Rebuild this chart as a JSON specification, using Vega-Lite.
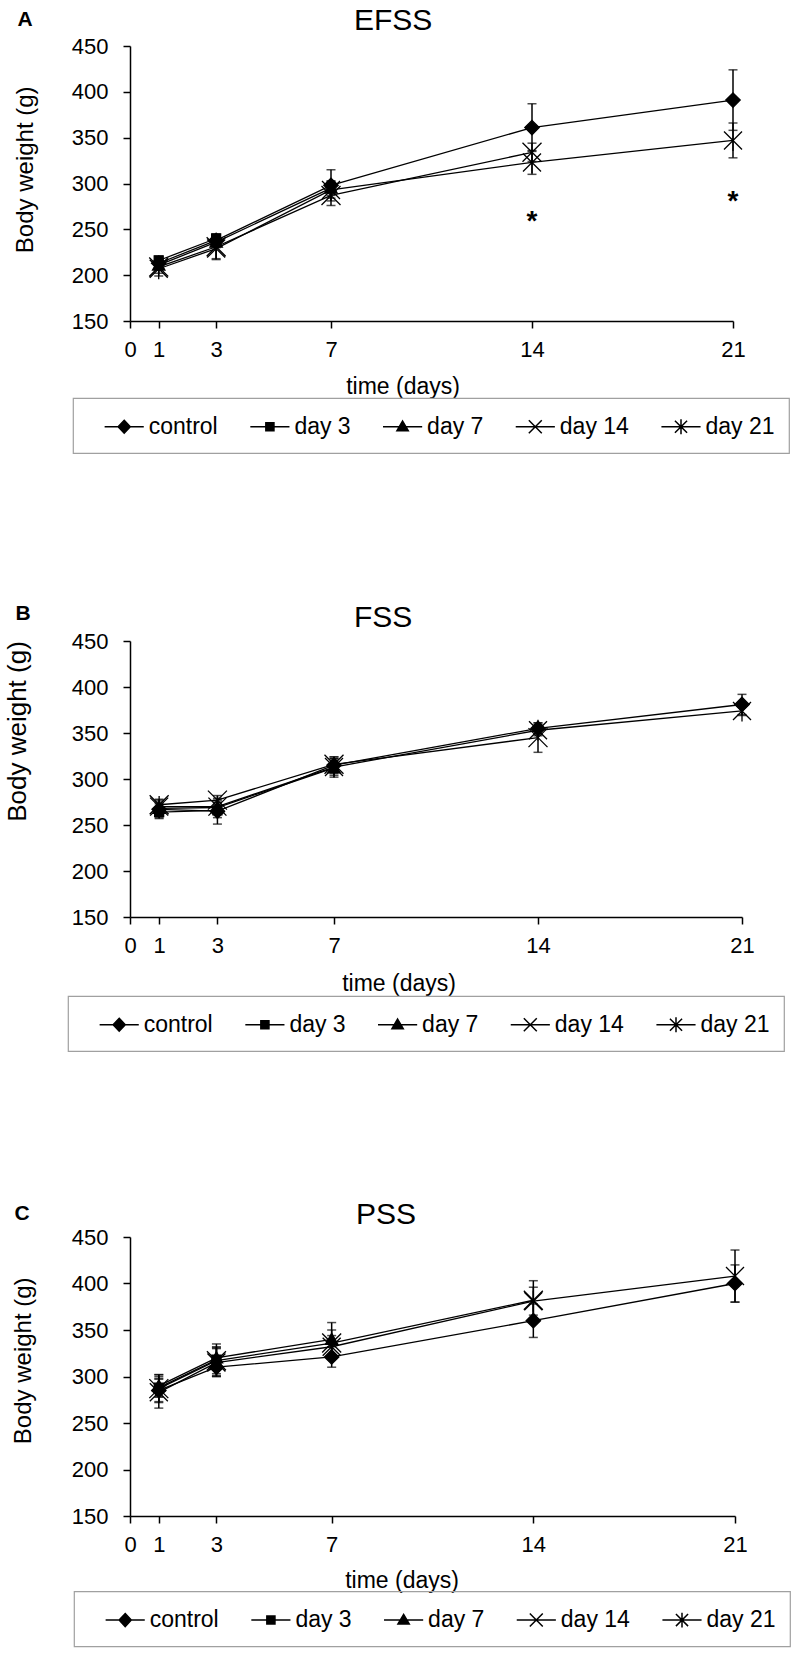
{
  "$schema": "https://vega.github.io/schema/vega-lite/v6.json",
  "background": "white",
  "padding": {"left": 4, "top": 5, "right": 5, "bottom": 5},
  "bounds": "flush",
  "spacing": 320,
  "resolve": {"scale": {"shape": "independent", "stroke": "independent"}, "legend": {"shape": "independent", "stroke": "independent"}},
  "datasets": {
    "efss": [
      {"series": "control", "day": 1, "mean": 213, "lo": 208, "hi": 218},
      {"series": "control", "day": 3, "mean": 238, "lo": 232, "hi": 244},
      {"series": "control", "day": 7, "mean": 298, "lo": 281, "hi": 315},
      {"series": "control", "day": 14, "mean": 361, "lo": 335, "hi": 387},
      {"series": "control", "day": 21, "mean": 391, "lo": 358, "hi": 424},
      {"series": "day 3", "day": 1, "mean": 216, "lo": 211, "hi": 221},
      {"series": "day 3", "day": 3, "mean": 240, "lo": 235, "hi": 245},
      {"series": "day 7", "day": 1, "mean": 211, "lo": 206, "hi": 216},
      {"series": "day 7", "day": 3, "mean": 236, "lo": 230, "hi": 242},
      {"series": "day 7", "day": 7, "mean": 295, "lo": 287, "hi": 303},
      {"series": "day 14", "day": 1, "mean": 209, "lo": 202, "hi": 216},
      {"series": "day 14", "day": 3, "mean": 231, "lo": 218, "hi": 244},
      {"series": "day 14", "day": 7, "mean": 287, "lo": 276, "hi": 298},
      {"series": "day 14", "day": 14, "mean": 334, "lo": 324, "hi": 344},
      {"series": "day 21", "day": 1, "mean": 207, "lo": 199, "hi": 215},
      {"series": "day 21", "day": 3, "mean": 229, "lo": 217, "hi": 241},
      {"series": "day 21", "day": 7, "mean": 293, "lo": 284, "hi": 302},
      {"series": "day 21", "day": 14, "mean": 323, "lo": 310, "hi": 336},
      {"series": "day 21", "day": 21, "mean": 347, "lo": 328, "hi": 366}
    ],
    "fss": [
      {"series": "control", "day": 1, "mean": 267, "lo": 257, "hi": 277},
      {"series": "control", "day": 3, "mean": 265, "lo": 251, "hi": 279},
      {"series": "control", "day": 7, "mean": 315, "lo": 306, "hi": 324},
      {"series": "control", "day": 14, "mean": 355, "lo": 349, "hi": 361},
      {"series": "control", "day": 21, "mean": 381, "lo": 370, "hi": 392},
      {"series": "day 3", "day": 1, "mean": 264, "lo": 258, "hi": 270},
      {"series": "day 3", "day": 3, "mean": 266, "lo": 258, "hi": 274},
      {"series": "day 7", "day": 1, "mean": 268, "lo": 263, "hi": 273},
      {"series": "day 7", "day": 3, "mean": 269, "lo": 263, "hi": 275},
      {"series": "day 7", "day": 7, "mean": 312, "lo": 302, "hi": 322},
      {"series": "day 14", "day": 1, "mean": 272, "lo": 266, "hi": 278},
      {"series": "day 14", "day": 3, "mean": 277, "lo": 272, "hi": 282},
      {"series": "day 14", "day": 7, "mean": 316, "lo": 308, "hi": 324},
      {"series": "day 14", "day": 14, "mean": 345, "lo": 329, "hi": 361},
      {"series": "day 21", "day": 1, "mean": 270, "lo": 265, "hi": 275},
      {"series": "day 21", "day": 3, "mean": 270, "lo": 263, "hi": 277},
      {"series": "day 21", "day": 7, "mean": 313, "lo": 304, "hi": 322},
      {"series": "day 21", "day": 14, "mean": 353, "lo": 347, "hi": 359},
      {"series": "day 21", "day": 21, "mean": 374, "lo": 369, "hi": 379}
    ],
    "pss": [
      {"series": "control", "day": 1, "mean": 285, "lo": 273, "hi": 297},
      {"series": "control", "day": 3, "mean": 310, "lo": 300, "hi": 320},
      {"series": "control", "day": 7, "mean": 321, "lo": 310, "hi": 332},
      {"series": "control", "day": 14, "mean": 360, "lo": 342, "hi": 378},
      {"series": "control", "day": 21, "mean": 400, "lo": 380, "hi": 420},
      {"series": "day 3", "day": 1, "mean": 288, "lo": 278, "hi": 298},
      {"series": "day 3", "day": 3, "mean": 318, "lo": 301, "hi": 335},
      {"series": "day 7", "day": 1, "mean": 290, "lo": 278, "hi": 302},
      {"series": "day 7", "day": 3, "mean": 320, "lo": 308, "hi": 332},
      {"series": "day 7", "day": 7, "mean": 340, "lo": 322, "hi": 358},
      {"series": "day 14", "day": 1, "mean": 287, "lo": 272, "hi": 302},
      {"series": "day 14", "day": 3, "mean": 317, "lo": 303, "hi": 331},
      {"series": "day 14", "day": 7, "mean": 336, "lo": 322, "hi": 350},
      {"series": "day 14", "day": 14, "mean": 382, "lo": 361, "hi": 403},
      {"series": "day 21", "day": 1, "mean": 283, "lo": 266, "hi": 300},
      {"series": "day 21", "day": 3, "mean": 315, "lo": 300, "hi": 330},
      {"series": "day 21", "day": 7, "mean": 332, "lo": 320, "hi": 344},
      {"series": "day 21", "day": 14, "mean": 381, "lo": 366, "hi": 396},
      {"series": "day 21", "day": 21, "mean": 408, "lo": 380, "hi": 436}
    ],
    "stars": [
      {"day": 14, "value": 266, "label": "*"},
      {"day": 21, "value": 288, "label": "*"}
    ]
  },
  "vconcat": [
    {
      "width": 603, "height": 275,
      "title": {"text": "A", "anchor": "start", "frame": "bounds", "fontSize": 21, "fontWeight": "bold", "baseline": "alphabetic", "offset": -41.5, "dx": 4},
      "data": {"name": "efss"},
      "resolve": {"axis": {"x": "independent"}},
      "layer": [
        {"mark": {"type": "line", "color": "black", "strokeWidth": 1.3},
         "encoding": {
           "x": {"field": "day", "type": "quantitative", "scale": {"domain": [0, 21], "nice": false, "zero": false},
                 "axis": {"values": [0, 1, 3, 7, 14, 21], "title": "time (days)", "titleX": 272.5, "titleY": 72, "titleAlign": "center", "titleBaseline": "alphabetic", "titleFontSize": 23, "labelFontSize": 22, "labelBaseline": "alphabetic", "labelPadding": 28, "tickSize": 7, "labelFlush": false}},
           "y": {"field": "mean", "type": "quantitative", "scale": {"domain": [150, 450], "nice": false, "zero": false},
                 "axis": {"values": [150, 200, 250, 300, 350, 400, 450], "title": "Body weight (g)", "titleX": -97.5, "titleY": 123.3, "titleAngle": -90, "titleAlign": "center", "titleBaseline": "alphabetic", "titleFontSize": 24, "labelFontSize": 22, "labelPadding": 15, "tickSize": 7}},
           "detail": {"field": "series"}
         }},
        {"mark": {"type": "rule", "color": "black", "strokeWidth": 1.5},
         "encoding": {"x": {"field": "day", "type": "quantitative", "axis": null}, "y": {"field": "lo", "type": "quantitative"}, "y2": {"field": "hi"}}},
        {"mark": {"type": "tick", "orient": "horizontal", "color": "black", "size": 9, "thickness": 1.5},
         "encoding": {"x": {"field": "day", "type": "quantitative", "axis": null}, "y": {"field": "lo", "type": "quantitative"}}},
        {"mark": {"type": "tick", "orient": "horizontal", "color": "black", "size": 9, "thickness": 1.5},
         "encoding": {"x": {"field": "day", "type": "quantitative", "axis": null}, "y": {"field": "hi", "type": "quantitative"}}},
        {"transform": [{"filter": "datum.series === 'control'"}],
         "mark": {"type": "point", "shape": "M0,-0.72L0.72,0L0,0.72L-0.72,0Z", "filled": true, "fill": "black", "stroke": "black", "strokeWidth": 1.3, "size": 400, "opacity": 1},
         "encoding": {
           "x": {"field": "day", "type": "quantitative", "axis": {"orient": "top", "domain": false, "ticks": false, "labels": false, "grid": false, "title": "EFSS", "titleX": 223.5, "titleY": -17, "titleAlign": "left", "titleBaseline": "alphabetic", "titleFontSize": 30, "titleFontWeight": "normal"}},
           "y": {"field": "mean", "type": "quantitative"}}},
        {"transform": [{"filter": "datum.series === 'day 3'"}],
         "mark": {"type": "point", "shape": "M-0.45,-0.45H0.45V0.45H-0.45Z", "filled": true, "fill": "black", "stroke": "black", "strokeWidth": 1.3, "size": 400, "opacity": 1},
         "encoding": {"x": {"field": "day", "type": "quantitative", "axis": null}, "y": {"field": "mean", "type": "quantitative"}}},
        {"transform": [{"filter": "datum.series === 'day 7'"}],
         "mark": {"type": "point", "shape": "M0,-0.6L0.62,0.5H-0.62Z", "filled": true, "fill": "black", "stroke": "black", "strokeWidth": 1.3, "size": 400, "opacity": 1},
         "encoding": {"x": {"field": "day", "type": "quantitative", "axis": null}, "y": {"field": "mean", "type": "quantitative"}}},
        {"transform": [{"filter": "datum.series === 'day 14'"}],
         "mark": {"type": "point", "shape": "M-0.95,-0.95L0.95,0.95M-0.95,0.95L0.95,-0.95", "filled": true, "fill": "black", "stroke": "black", "strokeWidth": 1.3, "size": 400, "opacity": 1},
         "encoding": {"x": {"field": "day", "type": "quantitative", "axis": null}, "y": {"field": "mean", "type": "quantitative"}}},
        {"transform": [{"filter": "datum.series === 'day 21'"}],
         "mark": {"type": "point", "shape": "M-0.9,-0.9L0.9,0.9M-0.9,0.9L0.9,-0.9M0,-1.05L0,1.05", "filled": true, "fill": "black", "stroke": "black", "strokeWidth": 1.3, "size": 400, "opacity": 1},
         "encoding": {"x": {"field": "day", "type": "quantitative", "axis": null}, "y": {"field": "mean", "type": "quantitative"}}},
        {"transform": [{"filter": "datum.day < 0"}],
         "mark": {"type": "point", "filled": true, "color": "black"},
         "encoding": {
           "x": {"field": "day", "type": "quantitative", "axis": null},
           "y": {"field": "mean", "type": "quantitative"},
           "shape": {"field": "series", "type": "nominal",
             "scale": {"domain": ["control", "day 3", "day 7", "day 14", "day 21"],
                       "range": ["M-1.45,0H1.45M0,-0.48L0.45,0L0,0.48L-0.45,0Z", "M-1.45,0H1.45M-0.3,-0.3H0.3V0.3H-0.3Z", "M-1.45,0H1.45M0,-0.42L0.42,0.3H-0.42Z", "M-1.45,0H1.45M-0.48,-0.48L0.48,0.48M-0.48,0.48L0.48,-0.48", "M-1.45,0H1.45M-0.45,-0.45L0.45,0.45M-0.45,0.45L0.45,-0.45M0,-0.55L0,0.55"]},
             "legend": {"orient": "none", "legendX": -57, "legendY": 352, "direction": "horizontal", "columns": 5, "columnPadding": 27.7,
               "title": " ", "titleOrient": "left", "titleFontSize": 8, "titlePadding": 22.7,
               "labelFontSize": 23, "labelColor": "black", "labelOffset": 10,
               "symbolSize": 729, "symbolStrokeWidth": 1.5, "symbolFillColor": "black", "symbolStrokeColor": "black", "symbolOpacity": 1,
               "padding": 14, "strokeColor": "#a0a0a0"}},
           "stroke": {"field": "series", "type": "nominal",
             "scale": {"domain": ["control", "day 3", "day 7", "day 14", "day 21"], "range": ["black", "black", "black", "black", "black"]},
             "legend": {"orient": "none", "legendX": -57, "legendY": 352, "direction": "horizontal", "columns": 5, "columnPadding": 27.7,
               "title": " ", "titleOrient": "left", "titleFontSize": 8, "titlePadding": 22.7,
               "labelFontSize": 23, "labelColor": "black", "labelOffset": 10,
               "symbolSize": 729, "symbolStrokeWidth": 1.5, "symbolFillColor": "black", "symbolStrokeColor": "black", "symbolOpacity": 1,
               "padding": 14, "strokeColor": "#a0a0a0"}}
         }},
        {"data": {"name": "stars"},
         "mark": {"type": "text", "fontSize": 28, "fontWeight": "bold", "dy": 7, "color": "black"},
         "encoding": {"x": {"field": "day", "type": "quantitative", "axis": null}, "y": {"field": "value", "type": "quantitative"}, "text": {"field": "label"}}}
      ]
    },
    {
      "width": 612, "height": 276,
      "title": {"text": "B", "anchor": "start", "frame": "bounds", "fontSize": 21, "fontWeight": "bold", "baseline": "alphabetic", "offset": -38.5, "dx": 11},
      "data": {"name": "fss"},
      "resolve": {"axis": {"x": "independent"}},
      "layer": [
        {"mark": {"type": "line", "color": "black", "strokeWidth": 1.3},
         "encoding": {
           "x": {"field": "day", "type": "quantitative", "scale": {"domain": [0, 21], "nice": false, "zero": false},
                 "axis": {"values": [0, 1, 3, 7, 14, 21], "title": "time (days)", "titleX": 268.5, "titleY": 73, "titleAlign": "center", "titleBaseline": "alphabetic", "titleFontSize": 23, "labelFontSize": 22, "labelBaseline": "alphabetic", "labelPadding": 28, "tickSize": 7, "labelFlush": false}},
           "y": {"field": "mean", "type": "quantitative", "scale": {"domain": [150, 450], "nice": false, "zero": false},
                 "axis": {"values": [150, 200, 250, 300, 350, 400, 450], "title": "Body weight (g)", "titleX": -104.5, "titleY": 90, "titleAngle": -90, "titleAlign": "center", "titleBaseline": "alphabetic", "titleFontSize": 26, "labelFontSize": 22, "labelPadding": 15, "tickSize": 7}},
           "detail": {"field": "series"}
         }},
        {"mark": {"type": "rule", "color": "black", "strokeWidth": 1.5},
         "encoding": {"x": {"field": "day", "type": "quantitative", "axis": null}, "y": {"field": "lo", "type": "quantitative"}, "y2": {"field": "hi"}}},
        {"mark": {"type": "tick", "orient": "horizontal", "color": "black", "size": 9, "thickness": 1.5},
         "encoding": {"x": {"field": "day", "type": "quantitative", "axis": null}, "y": {"field": "lo", "type": "quantitative"}}},
        {"mark": {"type": "tick", "orient": "horizontal", "color": "black", "size": 9, "thickness": 1.5},
         "encoding": {"x": {"field": "day", "type": "quantitative", "axis": null}, "y": {"field": "hi", "type": "quantitative"}}},
        {"transform": [{"filter": "datum.series === 'control'"}],
         "mark": {"type": "point", "shape": "M0,-0.72L0.72,0L0,0.72L-0.72,0Z", "filled": true, "fill": "black", "stroke": "black", "strokeWidth": 1.3, "size": 400, "opacity": 1},
         "encoding": {
           "x": {"field": "day", "type": "quantitative", "axis": {"orient": "top", "domain": false, "ticks": false, "labels": false, "grid": false, "title": "FSS", "titleX": 223.5, "titleY": -14.4, "titleAlign": "left", "titleBaseline": "alphabetic", "titleFontSize": 30, "titleFontWeight": "normal"}},
           "y": {"field": "mean", "type": "quantitative"}}},
        {"transform": [{"filter": "datum.series === 'day 3'"}],
         "mark": {"type": "point", "shape": "M-0.45,-0.45H0.45V0.45H-0.45Z", "filled": true, "fill": "black", "stroke": "black", "strokeWidth": 1.3, "size": 400, "opacity": 1},
         "encoding": {"x": {"field": "day", "type": "quantitative", "axis": null}, "y": {"field": "mean", "type": "quantitative"}}},
        {"transform": [{"filter": "datum.series === 'day 7'"}],
         "mark": {"type": "point", "shape": "M0,-0.6L0.62,0.5H-0.62Z", "filled": true, "fill": "black", "stroke": "black", "strokeWidth": 1.3, "size": 400, "opacity": 1},
         "encoding": {"x": {"field": "day", "type": "quantitative", "axis": null}, "y": {"field": "mean", "type": "quantitative"}}},
        {"transform": [{"filter": "datum.series === 'day 14'"}],
         "mark": {"type": "point", "shape": "M-0.95,-0.95L0.95,0.95M-0.95,0.95L0.95,-0.95", "filled": true, "fill": "black", "stroke": "black", "strokeWidth": 1.3, "size": 400, "opacity": 1},
         "encoding": {"x": {"field": "day", "type": "quantitative", "axis": null}, "y": {"field": "mean", "type": "quantitative"}}},
        {"transform": [{"filter": "datum.series === 'day 21'"}],
         "mark": {"type": "point", "shape": "M-0.9,-0.9L0.9,0.9M-0.9,0.9L0.9,-0.9M0,-1.05L0,1.05", "filled": true, "fill": "black", "stroke": "black", "strokeWidth": 1.3, "size": 400, "opacity": 1},
         "encoding": {"x": {"field": "day", "type": "quantitative", "axis": null}, "y": {"field": "mean", "type": "quantitative"}}},
        {"transform": [{"filter": "datum.day < 0"}],
         "mark": {"type": "point", "filled": true, "color": "black"},
         "encoding": {
           "x": {"field": "day", "type": "quantitative", "axis": null},
           "y": {"field": "mean", "type": "quantitative"},
           "shape": {"field": "series", "type": "nominal",
             "scale": {"domain": ["control", "day 3", "day 7", "day 14", "day 21"],
                       "range": ["M-1.45,0H1.45M0,-0.48L0.45,0L0,0.48L-0.45,0Z", "M-1.45,0H1.45M-0.3,-0.3H0.3V0.3H-0.3Z", "M-1.45,0H1.45M0,-0.42L0.42,0.3H-0.42Z", "M-1.45,0H1.45M-0.48,-0.48L0.48,0.48M-0.48,0.48L0.48,-0.48", "M-1.45,0H1.45M-0.45,-0.45L0.45,0.45M-0.45,0.45L0.45,-0.45M0,-0.55L0,0.55"]},
             "legend": {"orient": "none", "legendX": -62, "legendY": 355, "direction": "horizontal", "columns": 5, "columnPadding": 27.7,
               "title": " ", "titleOrient": "left", "titleFontSize": 8, "titlePadding": 22.7,
               "labelFontSize": 23, "labelColor": "black", "labelOffset": 10,
               "symbolSize": 729, "symbolStrokeWidth": 1.5, "symbolFillColor": "black", "symbolStrokeColor": "black", "symbolOpacity": 1,
               "padding": 14, "strokeColor": "#a0a0a0"}},
           "stroke": {"field": "series", "type": "nominal",
             "scale": {"domain": ["control", "day 3", "day 7", "day 14", "day 21"], "range": ["black", "black", "black", "black", "black"]},
             "legend": {"orient": "none", "legendX": -62, "legendY": 355, "direction": "horizontal", "columns": 5, "columnPadding": 27.7,
               "title": " ", "titleOrient": "left", "titleFontSize": 8, "titlePadding": 22.7,
               "labelFontSize": 23, "labelColor": "black", "labelOffset": 10,
               "symbolSize": 729, "symbolStrokeWidth": 1.5, "symbolFillColor": "black", "symbolStrokeColor": "black", "symbolOpacity": 1,
               "padding": 14, "strokeColor": "#a0a0a0"}}
         }}
      ]
    },
    {
      "width": 605, "height": 279,
      "title": {"text": "C", "anchor": "start", "frame": "bounds", "fontSize": 21, "fontWeight": "bold", "baseline": "alphabetic", "offset": -41.6, "dx": 3},
      "data": {"name": "pss"},
      "resolve": {"axis": {"x": "independent"}},
      "layer": [
        {"mark": {"type": "line", "color": "black", "strokeWidth": 1.3},
         "encoding": {
           "x": {"field": "day", "type": "quantitative", "scale": {"domain": [0, 21], "nice": false, "zero": false},
                 "axis": {"values": [0, 1, 3, 7, 14, 21], "title": "time (days)", "titleX": 271.5, "titleY": 71, "titleAlign": "center", "titleBaseline": "alphabetic", "titleFontSize": 23, "labelFontSize": 22, "labelBaseline": "alphabetic", "labelPadding": 28, "tickSize": 7, "labelFlush": false}},
           "y": {"field": "mean", "type": "quantitative", "scale": {"domain": [150, 450], "nice": false, "zero": false},
                 "axis": {"values": [150, 200, 250, 300, 350, 400, 450], "title": "Body weight (g)", "titleX": -99.5, "titleY": 123.3, "titleAngle": -90, "titleAlign": "center", "titleBaseline": "alphabetic", "titleFontSize": 24, "labelFontSize": 22, "labelPadding": 15, "tickSize": 7}},
           "detail": {"field": "series"}
         }},
        {"mark": {"type": "rule", "color": "black", "strokeWidth": 1.5},
         "encoding": {"x": {"field": "day", "type": "quantitative", "axis": null}, "y": {"field": "lo", "type": "quantitative"}, "y2": {"field": "hi"}}},
        {"mark": {"type": "tick", "orient": "horizontal", "color": "black", "size": 9, "thickness": 1.5},
         "encoding": {"x": {"field": "day", "type": "quantitative", "axis": null}, "y": {"field": "lo", "type": "quantitative"}}},
        {"mark": {"type": "tick", "orient": "horizontal", "color": "black", "size": 9, "thickness": 1.5},
         "encoding": {"x": {"field": "day", "type": "quantitative", "axis": null}, "y": {"field": "hi", "type": "quantitative"}}},
        {"transform": [{"filter": "datum.series === 'control'"}],
         "mark": {"type": "point", "shape": "M0,-0.72L0.72,0L0,0.72L-0.72,0Z", "filled": true, "fill": "black", "stroke": "black", "strokeWidth": 1.3, "size": 400, "opacity": 1},
         "encoding": {
           "x": {"field": "day", "type": "quantitative", "axis": {"orient": "top", "domain": false, "ticks": false, "labels": false, "grid": false, "title": "PSS", "titleX": 225.5, "titleY": -14, "titleAlign": "left", "titleBaseline": "alphabetic", "titleFontSize": 30, "titleFontWeight": "normal"}},
           "y": {"field": "mean", "type": "quantitative"}}},
        {"transform": [{"filter": "datum.series === 'day 3'"}],
         "mark": {"type": "point", "shape": "M-0.45,-0.45H0.45V0.45H-0.45Z", "filled": true, "fill": "black", "stroke": "black", "strokeWidth": 1.3, "size": 400, "opacity": 1},
         "encoding": {"x": {"field": "day", "type": "quantitative", "axis": null}, "y": {"field": "mean", "type": "quantitative"}}},
        {"transform": [{"filter": "datum.series === 'day 7'"}],
         "mark": {"type": "point", "shape": "M0,-0.6L0.62,0.5H-0.62Z", "filled": true, "fill": "black", "stroke": "black", "strokeWidth": 1.3, "size": 400, "opacity": 1},
         "encoding": {"x": {"field": "day", "type": "quantitative", "axis": null}, "y": {"field": "mean", "type": "quantitative"}}},
        {"transform": [{"filter": "datum.series === 'day 14'"}],
         "mark": {"type": "point", "shape": "M-0.95,-0.95L0.95,0.95M-0.95,0.95L0.95,-0.95", "filled": true, "fill": "black", "stroke": "black", "strokeWidth": 1.3, "size": 400, "opacity": 1},
         "encoding": {"x": {"field": "day", "type": "quantitative", "axis": null}, "y": {"field": "mean", "type": "quantitative"}}},
        {"transform": [{"filter": "datum.series === 'day 21'"}],
         "mark": {"type": "point", "shape": "M-0.9,-0.9L0.9,0.9M-0.9,0.9L0.9,-0.9M0,-1.05L0,1.05", "filled": true, "fill": "black", "stroke": "black", "strokeWidth": 1.3, "size": 400, "opacity": 1},
         "encoding": {"x": {"field": "day", "type": "quantitative", "axis": null}, "y": {"field": "mean", "type": "quantitative"}}},
        {"transform": [{"filter": "datum.day < 0"}],
         "mark": {"type": "point", "filled": true, "color": "black"},
         "encoding": {
           "x": {"field": "day", "type": "quantitative", "axis": null},
           "y": {"field": "mean", "type": "quantitative"},
           "shape": {"field": "series", "type": "nominal",
             "scale": {"domain": ["control", "day 3", "day 7", "day 14", "day 21"],
                       "range": ["M-1.45,0H1.45M0,-0.48L0.45,0L0,0.48L-0.45,0Z", "M-1.45,0H1.45M-0.3,-0.3H0.3V0.3H-0.3Z", "M-1.45,0H1.45M0,-0.42L0.42,0.3H-0.42Z", "M-1.45,0H1.45M-0.48,-0.48L0.48,0.48M-0.48,0.48L0.48,-0.48", "M-1.45,0H1.45M-0.45,-0.45L0.45,0.45M-0.45,0.45L0.45,-0.45M0,-0.55L0,0.55"]},
             "legend": {"orient": "none", "legendX": -56, "legendY": 354.3, "direction": "horizontal", "columns": 5, "columnPadding": 27.7,
               "title": " ", "titleOrient": "left", "titleFontSize": 8, "titlePadding": 22.7,
               "labelFontSize": 23, "labelColor": "black", "labelOffset": 10,
               "symbolSize": 729, "symbolStrokeWidth": 1.5, "symbolFillColor": "black", "symbolStrokeColor": "black", "symbolOpacity": 1,
               "padding": 14, "strokeColor": "#a0a0a0"}},
           "stroke": {"field": "series", "type": "nominal",
             "scale": {"domain": ["control", "day 3", "day 7", "day 14", "day 21"], "range": ["black", "black", "black", "black", "black"]},
             "legend": {"orient": "none", "legendX": -56, "legendY": 354.3, "direction": "horizontal", "columns": 5, "columnPadding": 27.7,
               "title": " ", "titleOrient": "left", "titleFontSize": 8, "titlePadding": 22.7,
               "labelFontSize": 23, "labelColor": "black", "labelOffset": 10,
               "symbolSize": 729, "symbolStrokeWidth": 1.5, "symbolFillColor": "black", "symbolStrokeColor": "black", "symbolOpacity": 1,
               "padding": 14, "strokeColor": "#a0a0a0"}}
         }}
      ]
    }
  ],
  "config": {
    "font": "Liberation Sans",
    "view": {"stroke": null},
    "axis": {"domainColor": "black", "domainWidth": 1.5, "tickColor": "black", "tickWidth": 1.5, "labelColor": "black", "titleColor": "black", "grid": false, "labelFont": "Liberation Sans", "titleFont": "Liberation Sans", "titleFontWeight": "normal"},
    "legend": {"strokeWidth": 1.2, "labelFont": "Liberation Sans", "titleFont": "Liberation Sans"},
    "title": {"color": "black", "font": "Liberation Sans"},
    "text": {"font": "Liberation Sans"}
  }
}
